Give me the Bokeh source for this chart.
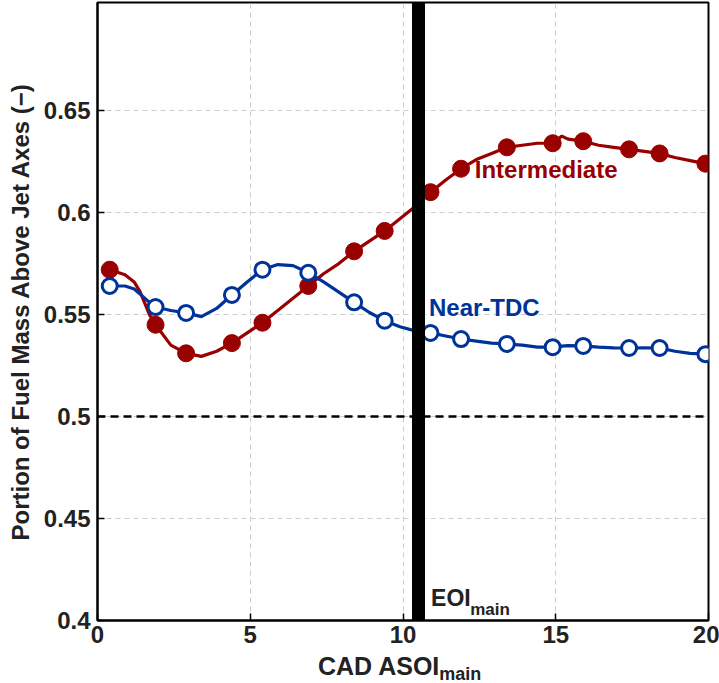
from bokeh.plotting import figure
from bokeh.models import Range1d, FixedTicker, Label, Div
from bokeh.layouts import column
from bokeh.embed import file_html
from bokeh.resources import INLINE

# ---- data ----
marker_x = [0.4, 1.9, 2.9, 4.4, 5.4, 6.9, 8.4, 9.4, 10.9, 11.9, 13.4, 14.9, 15.9, 17.4, 18.4, 19.9]
inter_marker_y = [0.572, 0.545, 0.531, 0.536, 0.546, 0.564, 0.581, 0.591, 0.610, 0.6215,
                  0.632, 0.634, 0.635, 0.631, 0.629, 0.624]
near_marker_y = [0.564, 0.5537, 0.5508, 0.5596, 0.572, 0.5705, 0.556, 0.547, 0.541, 0.538,
                 0.5356, 0.534, 0.5346, 0.5336, 0.5336, 0.5306]

line_x = [0.4, 0.9, 1.2, 1.4, 1.7, 1.9, 2.4, 2.9, 3.4, 3.9, 4.4, 4.9, 5.4, 5.9, 6.4, 6.9, 7.4, 7.9,
          8.4, 8.9, 9.4, 9.9, 10.4, 10.9, 11.4, 11.9, 12.4, 12.9, 13.4, 13.9, 14.4, 14.9, 15.2, 15.4,
          15.9, 16.4, 16.9, 17.4, 17.9, 18.4, 18.9, 19.4, 19.9]
inter_line_y = [0.572, 0.5695, 0.566, 0.561, 0.550, 0.545, 0.535, 0.531, 0.5295, 0.532, 0.536,
                0.541, 0.546, 0.552, 0.558, 0.564, 0.570, 0.575, 0.581, 0.586, 0.591, 0.597, 0.603,
                0.610, 0.616, 0.6215, 0.626, 0.629, 0.632, 0.633, 0.634, 0.634, 0.6375, 0.636,
                0.635, 0.633, 0.632, 0.631, 0.630, 0.629, 0.627, 0.6255, 0.624]
near_line_y = [0.564, 0.564, 0.5625, 0.560, 0.556, 0.5537, 0.552, 0.5508, 0.549, 0.553, 0.5596,
               0.566, 0.572, 0.5745, 0.574, 0.5705, 0.566, 0.561, 0.556, 0.551, 0.547, 0.544,
               0.542, 0.541, 0.5395, 0.538, 0.537, 0.536, 0.5356, 0.535, 0.534, 0.534, 0.5345,
               0.5348, 0.5346, 0.534, 0.5337, 0.5336, 0.5337, 0.5336, 0.532, 0.531, 0.5306]

eoi_x = [10.5]
ref_y = [0.5]

x_ticks = [0, 5, 10, 15, 20]
y_ticks = [0.4, 0.45, 0.5, 0.55, 0.6, 0.65]
y_tick_labels = ["0.4", "0.45", "0.5", "0.55", "0.6", "0.65"]

RED = "#990000"
BLUE = "#003399"
FONT = "Liberation Sans"
TXT = "#222222"

p = figure(width=719, height=654, output_backend="svg", toolbar_location=None,
           x_range=Range1d(0, 20), y_range=Range1d(0.4, 0.703),
           min_border_left=97, min_border_right=11, min_border_top=2, min_border_bottom=34)

p.outline_line_color = "black"
p.outline_line_width = 2
p.background_fill_color = "white"

for ax in (p.xaxis[0], p.yaxis[0]):
    ax.axis_line_width = 2
    ax.axis_line_color = "black"
    ax.major_tick_in = 7
    ax.major_tick_out = 0
    ax.minor_tick_in = 0
    ax.minor_tick_out = 0
    ax.major_tick_line_width = 1.5
    ax.major_tick_line_color = "black"
    ax.major_label_text_font = FONT
    ax.major_label_text_font_style = "bold"
    ax.major_label_text_font_size = "24px"
    ax.major_label_text_color = TXT

p.xaxis.ticker = FixedTicker(ticks=x_ticks)
p.yaxis.ticker = FixedTicker(ticks=y_ticks)
p.yaxis.major_label_overrides = {t: l for t, l in zip(y_ticks, y_tick_labels)}
p.xaxis.major_label_standoff = 5
p.yaxis.major_label_standoff = 7

p.yaxis.axis_label = "Portion of Fuel Mass Above Jet Axes (\u2212)"
p.yaxis.axis_label_text_font = FONT
p.yaxis.axis_label_text_font_style = "bold"
p.yaxis.axis_label_text_font_size = "24px"
p.yaxis.axis_label_text_color = TXT
p.yaxis.axis_label_standoff = 7

for g in (p.xgrid[0], p.ygrid[0]):
    g.grid_line_color = "#cccccc"
    g.grid_line_dash = "5 4"
    g.grid_line_width = 1

# reference line at 0.5
p.hspan(y=ref_y, line_color="black", line_width=2.5, line_dash="8 5")

# curves
p.line(line_x, inter_line_y, line_color=RED, line_width=3.2)
p.line(line_x, near_line_y, line_color=BLUE, line_width=3.2)
p.scatter(marker_x, inter_marker_y, size=17, marker="circle", fill_color=RED, line_color=RED, line_width=1)
p.scatter(marker_x, near_marker_y, size=15, marker="circle", fill_color="white", line_color=BLUE, line_width=3)

# end of injection bar
p.vspan(x=eoi_x, line_color="black", line_width=13)

# in-plot labels
p.add_layout(Label(x=12.35, y=0.6146, text="Intermediate", text_font=FONT, text_font_style="bold",
                   text_font_size="24px", text_color=RED))
p.add_layout(Label(x=10.85, y=0.547, text="Near-TDC", text_font=FONT, text_font_style="bold",
                   text_font_size="24px", text_color=BLUE))
p.add_layout(Label(x=10.92, y=0.4045, text="EOI", text_font=FONT, text_font_style="bold",
                   text_font_size="23px", text_color=TXT))
p.add_layout(Label(x=12.2, y=0.4, text="main", text_font=FONT, text_font_style="bold",
                   text_font_size="17px", text_color=TXT, y_offset=2))

# x axis title with subscript, as HTML text below the figure
xlabel = Div(
    text=('<div style="margin:0;padding:0 0 0 318px;font-family:\'Liberation Sans\',Arial,sans-serif;'
          'font-weight:bold;font-size:25px;line-height:25px;color:#222222;white-space:nowrap;">'
          'CAD ASOI<span style="font-size:18px;position:relative;top:5px;">main</span></div>'),
    width=719, height=29, margin=0)

layout = column(p, xlabel, spacing=0, margin=0)

open("out.html", "w").write(file_html(layout, INLINE))
